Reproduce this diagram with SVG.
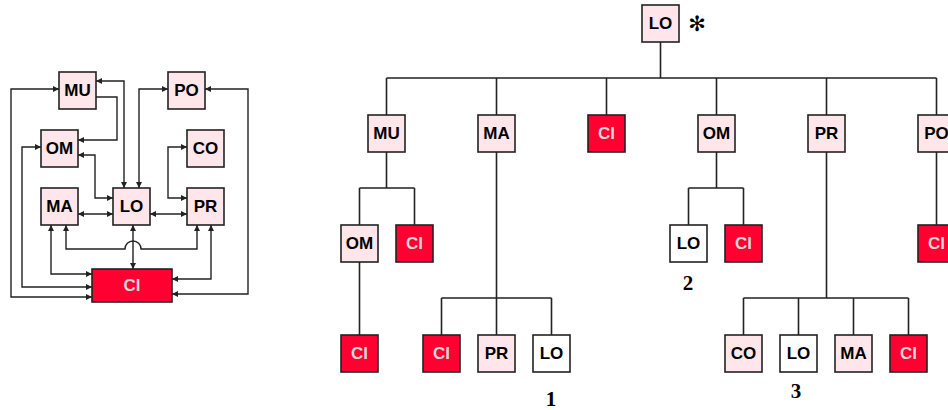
<svg xmlns="http://www.w3.org/2000/svg" width="948" height="410" viewBox="0 0 948 410">
<style>
.b{stroke:#222;stroke-width:1.6}
.p{fill:#FFE6EA}
.w{fill:#FFFFFF}
.r{fill:#FF0030}
.t{font-family:"Liberation Sans",Arial,sans-serif;font-weight:bold;font-size:17px;text-anchor:middle;dominant-baseline:central;fill:#000}
.tr{fill:#D8D8D8}
.n{font-family:"Liberation Serif","Times New Roman",serif;font-weight:bold;font-size:21px;text-anchor:middle;fill:#000}
.c{fill:none;stroke:#222;stroke-width:1.4}
.d{marker-start:url(#a);marker-end:url(#a)}
.e{marker-end:url(#a)}
.tl{fill:none;stroke:#222;stroke-width:1.6}
</style>
<defs>
<marker id="a" viewBox="0 0 6 6" refX="6" refY="3" markerWidth="6" markerHeight="6" markerUnits="userSpaceOnUse" orient="auto-start-reverse">
<path d="M0,0 L6,3 L0,6 z" fill="#222"/>
</marker>
</defs>
<rect width="948" height="410" fill="#fff"/>

<!-- Left diagram connectors -->
<g id="left-connectors">
<path class="c d" d="M92,297 H11 V89 H59"/>
<path class="c d" d="M92,287 H22 V147 H41"/>
<path class="c d" d="M92,274 H51 V225"/>
<path class="c d" d="M66,225 V249 H125 A8 8 0 0 1 141 249 H197 V225"/>
<path class="c d" d="M133,225 V269"/>
<path class="c d" d="M172,279 H211 V225"/>
<path class="c d" d="M172,294 H248 V89 H205"/>
<path class="c d" d="M96,81 H124 V188"/>
<path class="c e" d="M96,97 H117 V140 H78"/>
<path class="c d" d="M78,155 H95 V198 H113"/>
<path class="c d" d="M168,89 H139 V188"/>
<path class="c d" d="M187,147 H168 V198 H187"/>
<path class="c d" d="M78,214 H113"/>
<path class="c d" d="M150,214 H187"/>
</g>

<!-- Left diagram nodes -->
<g id="g-MU"><rect class="b p" x="59" y="72" width="37" height="37"/><text class="t" x="77.5" y="90.5">MU</text></g>
<g id="g-PO"><rect class="b p" x="168" y="72" width="37" height="37"/><text class="t" x="186.5" y="90.5">PO</text></g>
<g id="g-OM"><rect class="b p" x="41" y="130" width="37" height="37"/><text class="t" x="59.5" y="148.5">OM</text></g>
<g id="g-CO"><rect class="b p" x="187" y="130" width="37" height="37"/><text class="t" x="205.5" y="148.5">CO</text></g>
<g id="g-MA"><rect class="b p" x="41" y="188" width="37" height="37"/><text class="t" x="59.5" y="206.5">MA</text></g>
<g id="g-LO"><rect class="b p" x="113" y="188" width="37" height="37"/><text class="t" x="131.5" y="206.5">LO</text></g>
<g id="g-PR"><rect class="b p" x="187" y="188" width="37" height="37"/><text class="t" x="205.5" y="206.5">PR</text></g>
<g id="g-CI"><rect class="b r" x="92" y="269" width="80" height="33"/><text class="t tr" x="132" y="285.5">CI</text></g>

<!-- Tree connectors -->
<g id="tree-connectors">
<path class="tl" d="M660.5,42 V78 M386.5,78 H936.5 M386.5,78 V115 M496.5,78 V115 M606.5,78 V115 M716.5,78 V115 M826.5,78 V115 M936.5,78 V115"/>
<path class="tl" d="M386.5,152 V188 M359.5,188 H414.5 M359.5,188 V225 M414.5,188 V225 M359.5,262 V335"/>
<path class="tl" d="M496.5,152 V335 M441.5,298 H551.5 M441.5,298 V335 M551.5,298 V335"/>
<path class="tl" d="M716.5,152 V188 M688.5,188 H743.5 M688.5,188 V225 M743.5,188 V225"/>
<path class="tl" d="M826.5,152 V298 M743.5,298 H908.5 M743.5,298 V335 M798.5,298 V335 M853.5,298 V335 M908.5,298 V335"/>
<path class="tl" d="M936.5,152 V225"/>
</g>

<!-- Tree nodes -->
<g id="t-LO-root"><rect class="b p" x="642" y="5" width="37" height="37"/><text class="t" x="660.5" y="23.5">LO</text></g>
<g id="t-MU"><rect class="b p" x="368" y="115" width="37" height="37"/><text class="t" x="386.5" y="133.5">MU</text></g>
<g id="t-MA"><rect class="b p" x="478" y="115" width="37" height="37"/><text class="t" x="496.5" y="133.5">MA</text></g>
<g id="t-CI1"><rect class="b r" x="588" y="115" width="37" height="37"/><text class="t tr" x="606.5" y="133.5">CI</text></g>
<g id="t-OM"><rect class="b p" x="698" y="115" width="37" height="37"/><text class="t" x="716.5" y="133.5">OM</text></g>
<g id="t-PR"><rect class="b p" x="808" y="115" width="37" height="37"/><text class="t" x="826.5" y="133.5">PR</text></g>
<g id="t-PO"><rect class="b p" x="918" y="115" width="37" height="37"/><text class="t" x="936.5" y="133.5">PO</text></g>

<g id="t-MU-OM"><rect class="b p" x="341" y="225" width="37" height="37"/><text class="t" x="359.5" y="243.5">OM</text></g>
<g id="t-MU-CI"><rect class="b r" x="396" y="225" width="37" height="37"/><text class="t tr" x="414.5" y="243.5">CI</text></g>
<g id="t-OM-LO"><rect class="b w" x="670" y="225" width="37" height="37"/><text class="t" x="688.5" y="243.5">LO</text></g>
<g id="t-OM-CI"><rect class="b r" x="725" y="225" width="37" height="37"/><text class="t tr" x="743.5" y="243.5">CI</text></g>
<g id="t-PO-CI"><rect class="b r" x="918" y="225" width="37" height="37"/><text class="t tr" x="936.5" y="243.5">CI</text></g>

<g id="t-OM-CI2"><rect class="b r" x="341" y="335" width="37" height="37"/><text class="t tr" x="359.5" y="353.5">CI</text></g>
<g id="t-MA-CI"><rect class="b r" x="423" y="335" width="37" height="37"/><text class="t tr" x="441.5" y="353.5">CI</text></g>
<g id="t-MA-PR"><rect class="b p" x="478" y="335" width="37" height="37"/><text class="t" x="496.5" y="353.5">PR</text></g>
<g id="t-MA-LO"><rect class="b w" x="533" y="335" width="37" height="37"/><text class="t" x="551.5" y="353.5">LO</text></g>
<g id="t-PR-CO"><rect class="b p" x="725" y="335" width="37" height="37"/><text class="t" x="743.5" y="353.5">CO</text></g>
<g id="t-PR-LO"><rect class="b w" x="780" y="335" width="37" height="37"/><text class="t" x="798.5" y="353.5">LO</text></g>
<g id="t-PR-MA"><rect class="b p" x="835" y="335" width="37" height="37"/><text class="t" x="853.5" y="353.5">MA</text></g>
<g id="t-PR-CI"><rect class="b r" x="890" y="335" width="37" height="37"/><text class="t tr" x="908.5" y="353.5">CI</text></g>

<!-- Labels -->
<text x="697" y="31" font-family="DejaVu Sans,sans-serif" font-size="21" text-anchor="middle" fill="#000">✻</text>
<text class="n" x="551" y="406">1</text>
<text class="n" x="688" y="290">2</text>
<text class="n" x="796" y="398">3</text>
</svg>
